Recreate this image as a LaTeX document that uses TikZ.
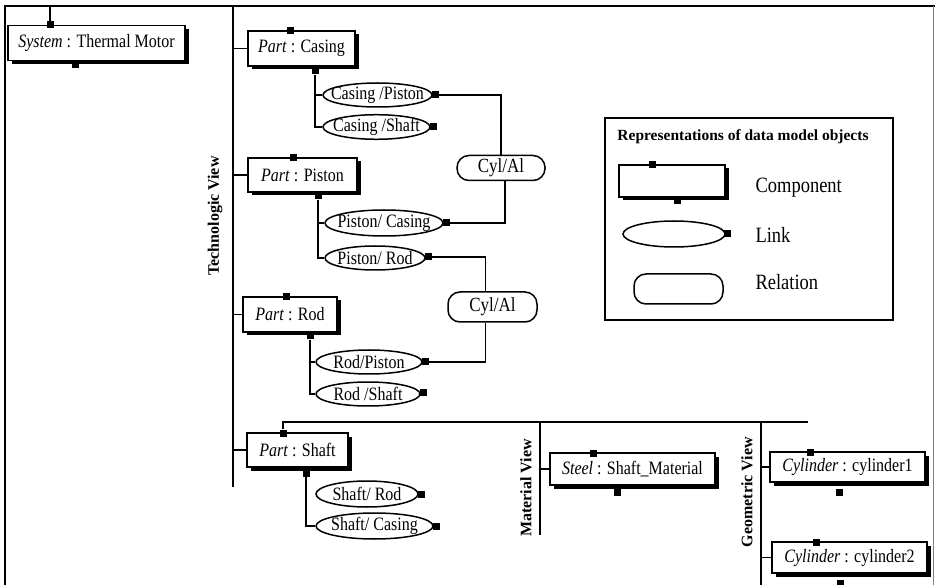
\documentclass[tikz,border=0pt]{standalone}
\usepackage{fontspec}
\usepackage{graphicx}
\setmainfont{Liberation Serif}
\usetikzlibrary{shapes.geometric,calc}
\newcommand\tallt[1]{\scalebox{1}[1.18]{#1}}
\newcommand\zwtext[1]{\makebox[0pt]{\tallt{#1}}}
\tikzset{
 ln/.style={line width=1.7pt},
 comp/.style={draw, line width=1.5pt, fill=white, inner sep=0pt,
   preaction={fill=black, transform canvas={xshift=3.5pt, yshift=-3.5pt}},
   font=\fontsize{16}{18}\selectfont},
 sq/.style={fill=black, inner sep=0pt, minimum width=7pt, minimum height=7pt},
 lnk/.style={ellipse, draw, line width=1.5pt, fill=white, inner sep=0pt, font=\fontsize{16}{18}\selectfont},
 rel/.style={rectangle, rounded corners=12pt, draw, line width=1.5pt, fill=white, inner sep=0pt, font=\fontsize{17}{19}\selectfont},
 view/.style={rotate=90, font=\bfseries\fontsize{16}{18}\selectfont},
 legtxt/.style={anchor=west, font=\fontsize{18.5}{20}\selectfont},
}
\begin{document}
\begin{tikzpicture}[x=1pt,y=-1pt]
\useasboundingbox (0,0) rectangle (935,585);
% frame
\coordinate (fTL) at (5,6); \coordinate (fTR) at (935,6); \coordinate (fBL) at (5,585);
\draw[ln] (fTR) -- (fTL) -- (fBL);
\coordinate (fR1) at (933,6); \coordinate (fR2) at (933,585);
\draw[gray, line width=0.6pt] (fR1) -- (fR2);

% system
\node[comp, minimum width=177pt, minimum height=35pt] (sys) at (96.5,43) {\tallt{\textit{System} : Thermal Motor}};
\node[sq] (sysT) at (50,25) {};
\node[sq] (sysB) at (75,65) {};
\draw[ln] (sysT) -- (sysT |- fTL);

% technologic view
\coordinate (tv0) at (233,6); \coordinate (tv1) at (233,487);
\draw[ln] (tv0) -- (tv1);
\node[view] (tvl) at (215,216) {Technologic View};

% casing
\node[comp, minimum width=107pt, minimum height=35pt] (cas) at (301.5,48.5) {\tallt{\textit{Part} : Casing}};
\node[sq] (casT) at (290,31) {}; \node[sq] (casB) at (315,71) {};
\draw[ln] (cas.west) -- (cas.west -| tv0);
\node[lnk, minimum width=109pt, minimum height=24pt] (cp) at (377.5,95) {\zwtext{Casing /Piston}};
\node[sq] (cpS) at (435,95) {};
\node[lnk, minimum width=107pt, minimum height=24pt] (csh) at (376.5,127) {\zwtext{Casing /Shaft}};
\node[sq] (cshS) at (433,127) {};
\draw[ln] (casB) |- (csh.west);
\draw[ln] (casB) |- (cp.west);

% relation 1
\node[rel, minimum width=88pt, minimum height=25pt] (r1) at (501,168) {\tallt{Cyl/Al}};
\draw[ln] (cpS) -| (r1.north);

% piston
\node[comp, minimum width=109pt, minimum height=34pt] (pis) at (302.5,175) {\tallt{\textit{Part} : Piston}};
\node[sq] (pisT) at (293,158) {}; \node[sq] (pisB) at (318,196) {};
\draw[ln] (pis.west) -- (pis.west -| tv0);
\node[lnk, minimum width=118pt, minimum height=26pt] (pc) at (384,223) {\zwtext{Piston/ Casing}};
\node[sq] (pcS) at (446,223) {};
\draw[ln] (pcS) -| ([xshift=4pt]r1.south);
\node[lnk, minimum width=100pt, minimum height=24pt] (pr) at (375,258) {\zwtext{Piston/ Rod}};
\node[sq] (prS) at (428,257) {};
\draw[ln] (pisB) |- (pr.west);
\draw[ln] (pisB) |- (pc.west);

% relation 2
\node[rel, minimum width=89pt, minimum height=30pt] (r2) at (492.5,307) {\tallt{Cyl/Al}};
\draw[ln] (prS) -| ([xshift=-7pt]r2.north);

% rod
\node[comp, minimum width=94pt, minimum height=35pt] (rod) at (290,314.5) {\tallt{\textit{Part} : Rod}};
\node[sq] (rodT) at (286,297) {}; \node[sq] (rodB) at (310,336) {};
\draw[ln] (rod.west) -- (rod.west -| tv0);
\node[lnk, minimum width=106pt, minimum height=24pt] (rp) at (369,362) {\zwtext{Rod/Piston}};
\node[sq] (rpS) at (425,362) {};
\node[lnk, minimum width=104pt, minimum height=24pt] (rs) at (368,394) {\zwtext{Rod /Shaft}};
\node[sq] (rsS) at (423,393) {};
\draw[ln] (rpS) -| ([xshift=-7pt]r2.south);
\draw[ln] (rodB) |- (rs.west);
\draw[ln] (rodB) |- (rp.west);

% shaft
\coordinate (hz) at (808,422);
\node[comp, minimum width=101pt, minimum height=34pt] (sh) at (297.5,450) {\tallt{\textit{Part} : Shaft}};
\node[sq] (shT) at (283,433) {}; \node[sq] (shB) at (306,473) {};
\draw[ln] (shT) |- (hz);
\draw[ln] (sh.west) -- (sh.west -| tv0);
\node[lnk, minimum width=102pt, minimum height=26pt] (shr) at (367,494) {\zwtext{Shaft/ Rod}};
\node[sq] (shrS) at (421,494) {};
\node[lnk, minimum width=117pt, minimum height=26pt] (shc) at (374.5,526) {\zwtext{Shaft/ Casing}};
\node[sq] (shcS) at (436,526) {};
\draw[ln] (shB) |- (shc.west);

% material view
\coordinate (mv0) at (540,422); \coordinate (mv1) at (540,535);
\draw[ln] (mv0) -- (mv1);
\node[view] (mvl) at (526,488) {Material View};
\node[comp, minimum width=165pt, minimum height=32pt] (steel) at (632.5,469) {\tallt{\textit{Steel} : Shaft\_Material}};
\node[sq] (stT) at (593,453) {}; \node[sq] (stB) at (617,492) {};
\draw[ln] (steel.west) -- (steel.west -| mv0);

% geometric view
\coordinate (gv0) at (761,422); \coordinate (gv1) at (761,585);
\draw[ln] (gv0) -- (gv1);
\node[view] (gvl) at (747,492) {Geometric View};
\node[comp, minimum width=155pt, minimum height=30pt] (cy1) at (847.5,467) {\tallt{\textit{Cylinder} : cylinder1}};
\node[sq] (cy1T) at (810,452) {}; \node[sq] (cy1B) at (839,492) {};
\draw[ln] (cy1.west) -- (cy1.west -| gv0);
\node[comp, minimum width=155pt, minimum height=31pt] (cy2) at (849.5,557.5) {\tallt{\textit{Cylinder} : cylinder2}};
\node[sq] (cy2T) at (816,542) {}; \node[sq] (cy2B) at (840,583) {};
\draw[ln] (cy2.west) -- (cy2.west -| gv0);

% legend
\node[draw, line width=1.5pt, minimum width=288pt, minimum height=202pt, inner sep=0pt] (leg) at (749,219) {};
\node[font=\bfseries\fontsize{15.5}{17}\selectfont] (legt) at (743,137) {Representations of data model objects};
\node[comp, minimum width=106pt, minimum height=32pt] (legC) at (672,181) {};
\node[sq] (legCT) at (652,165) {}; \node[sq] (legCB) at (677,201) {};
\node[lnk, minimum width=102pt, minimum height=26pt] (legL) at (674,234) {};
\node[sq] (legLS) at (727,234) {};
\node[rel, minimum width=89pt, minimum height=30pt] (legR) at (678.5,289) {};
\node[legtxt] (tC) at (752,188) {\tallt{Component}};
\node[legtxt] (tL) at (752,235) {\tallt{Link}};
\node[legtxt] (tR) at (752,282) {\tallt{Relation}};
\end{tikzpicture}
\end{document}
